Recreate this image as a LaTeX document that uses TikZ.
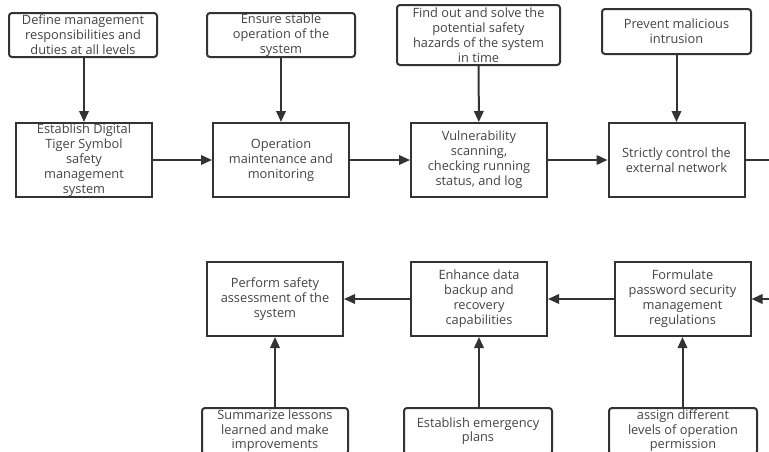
\documentclass[tikz,border=0pt]{standalone}
\usepackage{fontspec}
\setmainfont{Open Sans}
\usetikzlibrary{arrows.meta}
\definecolor{ink}{HTML}{333333}
\definecolor{txt}{HTML}{444444}
\tikzset{
  base/.style={draw=ink, line width=2pt, fill=white, text=txt, align=center,
    inner sep=0pt, font=\fontsize{12.8}{15}\selectfont},
  mainbox/.style={base, minimum width=136pt, minimum height=74pt},
  notebox/.style={base, rounded corners=3pt},
  link/.style={draw=ink, line width=2pt, -{Triangle[length=11pt,width=9.5pt]}},
  plain/.style={draw=ink, line width=2pt}
}
\begin{document}
\begin{tikzpicture}[x=1pt, y=-1pt]
\clip (0,0) rectangle (769,451);
\fill[white] (0,0) rectangle (769,451);

% upper row: goals above each step
\node[notebox, minimum width=148pt, minimum height=44pt] (n1) at (83,35)
  {Define management\\responsibilities and\\duties at all levels};
\node[notebox, minimum width=148pt, minimum height=44pt] (n2) at (281,35)
  {Ensure stable\\operation of the\\system};
\node[notebox, minimum width=163pt, minimum height=60pt] (n3) at (478.5,35)
  {Find out and solve the\\potential safety\\hazards of the system\\in time};
\node[notebox, minimum width=149pt, minimum height=45pt] (n4) at (676.5,31.5)
  {Prevent malicious\\intrusion};

% upper row: steps
\node[mainbox] (a) at (84,160)
  {Establish Digital\\Tiger Symbol\\safety\\management\\system};
\node[mainbox] (b) at (281,160) {Operation\\maintenance and\\monitoring};
\node[mainbox] (c) at (479,160)
  {Vulnerability\\scanning,\\checking running\\status, and log};
\node[mainbox] (d) at (676.5,160) {Strictly control the\\external network};
\coordinate (dout) at (769,160);

% lower row: steps
\node[mainbox] (e) at (275,299) {Perform safety\\assessment of the\\system};
\node[mainbox] (f) at (479,299)
  {Enhance data\\backup and\\recovery\\capabilities};
\node[mainbox] (g) at (682.5,299)
  {Formulate\\password security\\management\\regulations};
\coordinate (gin) at (769,299);

% lower row: measures below each step
\tikzset{lowbox/.style={notebox, minimum height=46pt, anchor=north,
  font=\fontsize{12.8}{14.5}\selectfont}}
\node[lowbox, minimum width=146pt] (m1) at (275,407)
  {Summarize lessons\\learned and make\\improvements};
\node[lowbox, minimum width=148pt] (m2) at (478,407)
  {Establish emergency\\plans};
\node[lowbox, minimum width=148pt] (m3) at (683,407)
  {assign different\\levels of operation\\permission};

% connectors
\draw[link] (n1.south -| a.north) -- (a.north);
\draw[link] (n2) -- (b);
\draw[link] (n3) -- (c);
\draw[link] (n4) -- (d);
\draw[link] (a) -- (b);
\draw[link] (b) -- (c);
\draw[link] (c) -- (d);
\draw[plain] (d) -- (dout);

\draw[link] (gin) -- (g);
\draw[link] (g) -- (f);
\draw[link] (f) -- (e);
\draw[link] (m1) -- (e);
\draw[link] (m2.north -| f.south) -- (f.south);
\draw[link] (m3.north -| g.south) -- (g.south);
\end{tikzpicture}
\end{document}
